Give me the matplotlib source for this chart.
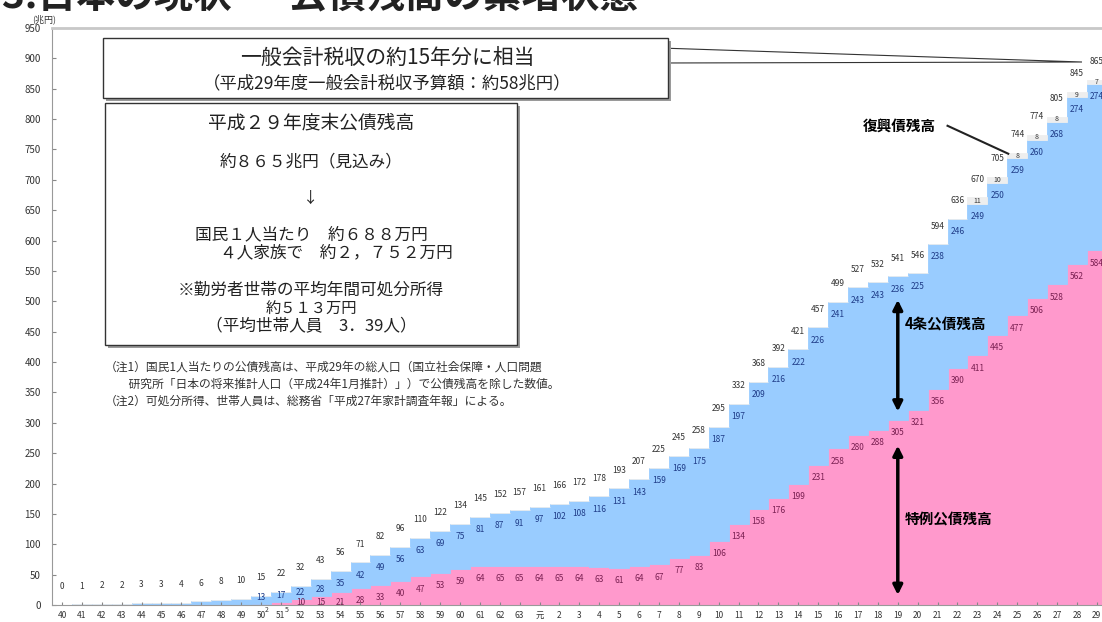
import numpy as np
import matplotlib.pyplot as plt
from matplotlib.patches import Rectangle, Polygon

plt.rcParams['font.family'] = ['Noto Sans CJK JP', 'DejaVu Sans']

# fiscal years: Showa 40-63, Heisei 1 (元) - 29
years = [str(y) for y in range(40, 64)] + ['元'] + [str(y) for y in range(2, 30)]

# 4条公債残高 (construction bonds), 兆円
kensetsu = [0, 1, 2, 2, 3, 3, 4, 6, 8, 10,
            13, 17, 22, 28, 35, 42, 49, 56, 63, 69, 75, 81, 87, 91,
            97, 102, 108, 116, 131, 143, 159, 169, 175,
            187, 197, 209, 216, 222, 226, 241, 243, 243, 236, 225,
            238, 246, 249, 250, 259, 260, 268, 274, 274]
# 特例公債残高 (deficit bonds)
tokurei = [0, 0, 0, 0, 0, 0, 0, 0, 0, 0,
           2, 5, 10, 15, 21, 28, 33, 40, 47, 53, 59, 64, 65, 65,
           64, 65, 64, 63, 61, 64, 67, 77, 83,
           106, 134, 158, 176, 199, 231, 258, 280, 288, 305, 321,
           356, 390, 411, 445, 477, 506, 528, 562, 584]
# 復興債残高 (reconstruction bonds)
fukko = [0] * 46 + [11, 10, 8, 8, 8, 9, 7]
# total labels as printed
totals = [0, 1, 2, 2, 3, 3, 4, 6, 8, 10,
          15, 22, 32, 43, 56, 71, 82, 96, 110, 122, 134, 145, 152, 157,
          161, 166, 172, 178, 193, 207, 225, 245, 258,
          295, 332, 368, 392, 421, 457, 499, 527, 532, 541, 546,
          594, 636, 670, 705, 744, 774, 805, 845, 865]

PINK = '#FF99CC'
BLUE = '#99CCFF'
W, H = 1102, 622


def fx(px):
    return px / W


def fy(py):
    return 1 - py / H


fig = plt.figure(figsize=(W / 100, H / 100), dpi=100)
ax = fig.add_axes([fx(52), fy(605), 1 - fx(52), (605 - 28) / H])

x = np.arange(len(years))
pink = np.array(tokurei)
blue = np.array(kensetsu)
grey = np.array(fukko)

ax.bar(x, pink, width=1.0, color=PINK, edgecolor=PINK, lw=0.6)
ax.bar(x, blue, bottom=pink, width=1.0, color=BLUE, edgecolor=BLUE, lw=0.6)
ax.bar(x, grey, bottom=pink + blue, width=1.0, color='#EEEEEE', edgecolor='#EEEEEE', lw=0.6)

ax.set_xlim(-0.5, (W - 62) / 19.9)
ax.set_ylim(0, 950)
ax.set_yticks(range(0, 951, 50))
ax.set_xticks(x)
ax.set_xticklabels(years)
ax.tick_params(axis='y', direction='in', length=3, labelsize=7, labelcolor='#333', color='#888', pad=8)
ax.tick_params(axis='x', direction='in', length=2, labelsize=6, labelcolor='#333', color='#888', pad=4)
ax.spines['right'].set_visible(False)
ax.spines['top'].set_color('#c8c8c8')
ax.spines['top'].set_linewidth(2)
ax.spines['left'].set_color('#999')
ax.spines['bottom'].set_color('#999')

# value labels
for i in range(len(years)):
    top = pink[i] + blue[i] + grey[i]
    ax.text(i, top + 30, str(totals[i]), ha='center', va='center', fontsize=6, color='#333')
    if i >= 10:
        ax.text(i, max(pink[i] + blue[i] - 21, pink[i] + 10), str(kensetsu[i]),
                ha='center', va='center', fontsize=6, color='#1f3c88')
    if i >= 12:
        ax.text(i, max(pink[i] - 21, 4), str(tokurei[i]),
                ha='center', va='center', fontsize=6, color='#7a2052')
    elif i >= 10:
        ax.text(i + 0.3, -8, str(tokurei[i]), ha='center', va='center',
                fontsize=5, color='#333', clip_on=False)
    if grey[i] > 0:
        ax.text(i, pink[i] + blue[i] + grey[i] / 2, str(fukko[i]),
                ha='center', va='center', fontsize=5, color='#333')

# arrows and series names
h19 = years.index('19')
ax.annotate('', xy=(h19, 507), xytext=(h19, 314),
            arrowprops=dict(arrowstyle='<|-|>', lw=2.5, color='black', mutation_scale=14))
ax.annotate('', xy=(h19, 267), xytext=(h19, 12),
            arrowprops=dict(arrowstyle='<|-|>', lw=2.5, color='black', mutation_scale=14))
ax.text(h19 + 0.35, 462, '4条公債残高', fontsize=10.5, fontweight='bold', ha='left', va='center')
ax.text(h19 + 0.35, 140, '特例公債残高', fontsize=10.5, fontweight='bold', ha='left', va='center')
ax.text(h19 + 0.1, 789, '復興債残高', fontsize=10.5, fontweight='bold', ha='center', va='center')
ax.plot([h19 + 2.5, h19 + 5.55], [789, 743], color='#222', lw=1.5)

# title (cropped at top) and unit
fig.text(fx(2), fy(16), '3.日本の現状 ― 公債残高の累増状態', fontsize=28,
         fontweight='bold', color='#222', va='bottom', ha='left')
fig.text(fx(32), fy(19), '(兆円)', fontsize=6.5, color='#333', va='center')


def box(x0, y0, x1, y1):
    fig.add_artist(Rectangle((fx(x0 + 3), fy(y1 + 3)), (x1 - x0) / W, (y1 - y0) / H,
                             transform=fig.transFigure, facecolor='#9a9a9a', edgecolor='none'))
    fig.add_artist(Rectangle((fx(x0), fy(y1)), (x1 - x0) / W, (y1 - y0) / H,
                             transform=fig.transFigure, facecolor='white', edgecolor='#333', lw=1))


# callout from box 1 to the last total
fig.add_artist(Polygon([(fx(660), fy(48)), (fx(1082), fy(62)), (fx(660), fy(63))], closed=True,
                       transform=fig.transFigure, facecolor='white', edgecolor='#333', lw=0.8))
box(103, 38, 668, 98)
fig.text(fx(387), fy(58), '一般会計税収の約15年分に相当', fontsize=15, ha='center', va='center', color='#222')
fig.text(fx(387), fy(83), '（平成29年度一般会計税収予算額：約58兆円）', fontsize=12.5,
         ha='center', va='center', color='#222')

box(105, 103, 517, 345)
fig.text(fx(311), fy(123), '平成２９年度末公債残高', fontsize=13.5, ha='center', va='center', color='#222')
fig.text(fx(311), fy(162), '約８６５兆円（見込み）', fontsize=12, ha='center', va='center', color='#222')
fig.text(fx(311), fy(198), '↓', fontsize=11, ha='center', va='center', color='#222')
fig.text(fx(195), fy(235), '国民１人当たり　約６８８万円', fontsize=12, ha='left', va='center', color='#222')
fig.text(fx(220), fy(253), '４人家族で　約２，７５２万円', fontsize=12, ha='left', va='center', color='#222')
fig.text(fx(311), fy(290), '※勤労者世帯の平均年間可処分所得', fontsize=12, ha='center', va='center', color='#222')
fig.text(fx(311), fy(308), '約５１３万円', fontsize=11, ha='center', va='center', color='#222')
fig.text(fx(311), fy(327), '（平均世帯人員　3．39人）', fontsize=12, ha='center', va='center', color='#222')

notes = ['（注1）国民1人当たりの公債残高は、平成29年の総人口（国立社会保障・人口問題',
         '　　研究所「日本の将来推計人口（平成24年1月推計）」）で公債残高を除した数値。',
         '（注2）可処分所得、世帯人員は、総務省「平成27年家計調査年報」による。']
for k, line in enumerate(notes):
    fig.text(fx(105), fy(367 + 17 * k), line, fontsize=8.5, ha='left', va='center', color='#333')

fig.savefig('out.png', dpi=100)
